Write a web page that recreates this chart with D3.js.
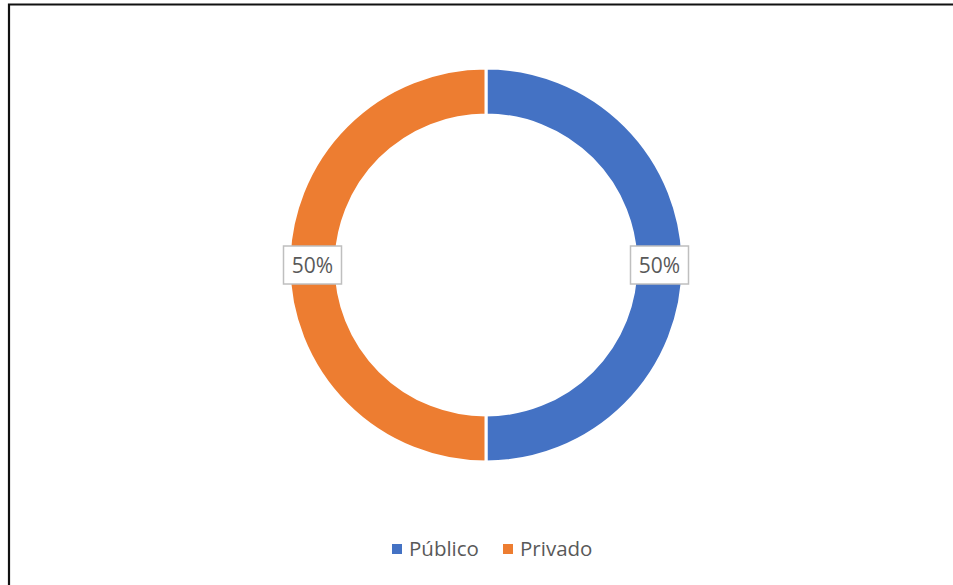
<!DOCTYPE html>
<meta charset="utf-8">
<title>Donut</title>
<style>
    body { margin: 0; background: #fff; }
    text { font-family: "Open Sans", Lato, sans-serif; }
</style>
<body>
</body>
<script src="https://d3js.org/d3.v7.min.js"></script>
<script>
    const categories = ["Público", "Privado"];
    const values = [50, 50];
    const colors = ["#4472C4", "#ED7D31"];

    const width = 953, height = 585;
    const cx = 486, cy = 265, outerR = 197, innerR = 150;

    const svg = d3.select("body").append("svg")
        .attr("width", width).attr("height", height);

    // frame (left and top edges visible)
    svg.append("path")
        .attr("d", `M9,${height} V4.5 H${width}`)
        .attr("fill", "none")
        .attr("stroke", "#111")
        .attr("stroke-width", 2.2);

    const data = categories.map((c, i) => ({ name: c, value: values[i], color: colors[i] }));
    const pie = d3.pie().value(d => d.value).sort(null);
    const arc = d3.arc().innerRadius(innerR).outerRadius(outerR);
    const labelArc = d3.arc().innerRadius((innerR + outerR) / 2).outerRadius((innerR + outerR) / 2);

    const g = svg.append("g").attr("transform", `translate(${cx},${cy})`);
    const arcs = pie(data);

    g.selectAll("path.slice")
        .data(arcs)
        .join("path")
        .attr("class", "slice")
        .attr("d", arc)
        .attr("fill", d => d.data.color)
        .attr("stroke", "#fff")
        .attr("stroke-width", 3);

    const total = d3.sum(values);
    const lbl = g.selectAll("g.lbl")
        .data(arcs)
        .join("g")
        .attr("class", "lbl")
        .attr("transform", d => {
            const [x, y] = labelArc.centroid(d);
            return `translate(${x},${y})`;
        });
    lbl.append("rect")
        .attr("x", -29).attr("y", -19)
        .attr("width", 58).attr("height", 38)
        .attr("fill", "#fff")
        .attr("stroke", "#bfbfbf")
        .attr("stroke-width", 1.5);
    lbl.append("text")
        .attr("text-anchor", "middle")
        .attr("dy", "0.36em")
        .attr("font-size", 21)
        .attr("fill", "#595959")
        .text(d => d3.format(".0%")(d.data.value / total));

    // legend
    const legend = svg.append("g").attr("transform", "translate(392,549)");
    const offsets = [0, 111];
    const items = legend.selectAll("g")
        .data(data)
        .join("g")
        .attr("transform", (d, i) => `translate(${offsets[i]},0)`);
    items.append("rect")
        .attr("x", 0).attr("y", -5)
        .attr("width", 10).attr("height", 10)
        .attr("fill", d => d.color);
    items.append("text")
        .attr("x", 17)
        .attr("dy", "0.36em")
        .attr("font-size", 20.5)
        .attr("fill", "#595959")
        .text(d => d.name);
</script>
